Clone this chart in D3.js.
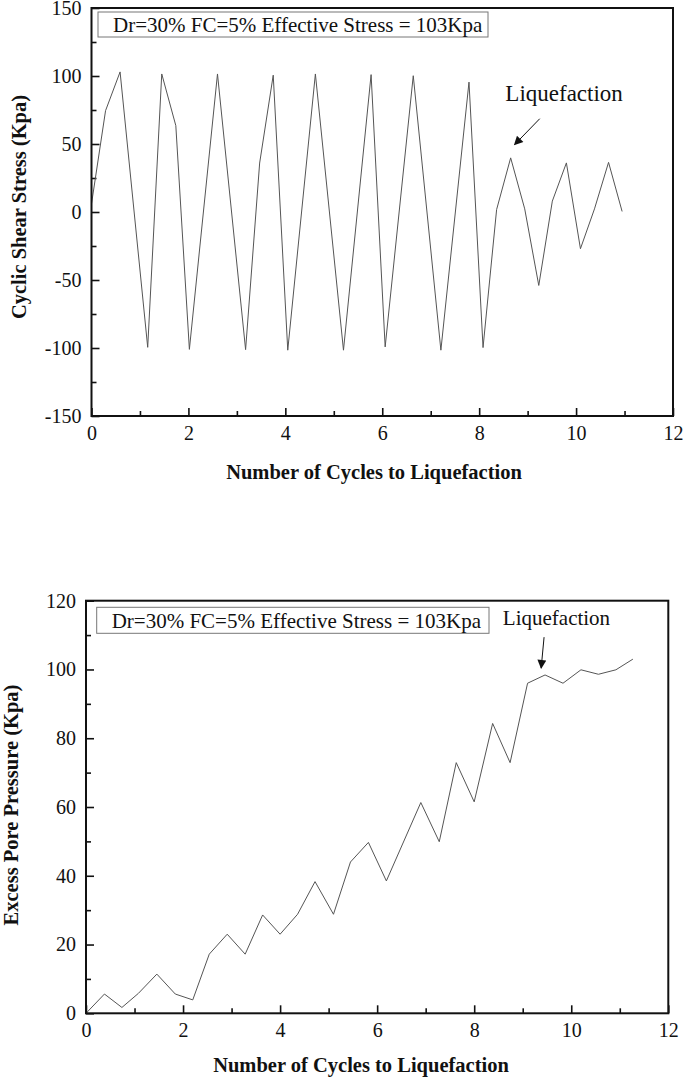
<!DOCTYPE html>
<html>
<head>
<meta charset="utf-8">
<script src="https://d3js.org/d3.v7.min.js"></script>
<style>
  body { margin: 0; background: #fff; }
  svg text { font-family: "Liberation Serif", "Times New Roman", serif; fill: #111; }
  .tick text { font-size: 20px; }
  .axis-title { font-size: 20.5px; font-weight: bold; }
</style>
</head>
<body>
<div id="chart"></div>
<script>
// --- data ---
const boxLabel = "Dr=30% FC=5% Effective Stress = 103Kpa";

// top panel: cyclic shear stress
const shearCycles = [0, 0.29, 0.59, 1.16, 1.45, 1.74, 2.02, 2.60, 3.18, 3.47, 3.75, 4.05, 4.62,
  5.20, 5.77, 6.06, 6.64, 7.21, 7.79, 8.08, 8.36, 8.65, 8.94, 9.23, 9.51, 9.80, 10.09, 10.38, 10.67, 10.95];
const shearStress = [6, 74.5, 103, -99.5, 101.5, 63.5, -101, 101.5, -101.2, 36, 100.6, -101.6, 101.5,
  -101.6, 101, -99.2, 100.2, -101.6, 95.5, -99.7, 1.8, 39.8, 2.3, -54, 8, 36.1, -27, 2.3, 36.5, 0.4];

// bottom panel: excess pore pressure
const poreCycles = [0, 0.38, 0.74, 1.08, 1.46, 1.84, 2.20, 2.54, 2.91, 3.28, 3.64, 4.00, 4.36, 4.72,
  5.10, 5.45, 5.82, 6.19, 6.90, 7.28, 7.63, 8.00, 8.38, 8.74, 9.10, 9.46, 9.83, 10.20, 10.56, 10.92, 11.27];
const porePressure = [0, 5.6, 1.7, 5.8, 11.4, 5.6, 3.9, 17.2, 23.0, 17.2, 28.6, 23.0, 28.8, 38.3,
  28.8, 44.0, 49.7, 38.5, 61.3, 49.9, 72.9, 61.5, 84.3, 72.9, 96.0, 98.4, 96.0, 99.9, 98.6, 99.9, 103.0];

const xTicks = [0, 2, 4, 6, 8, 10, 12];
const shearTicks = [-150, -100, -50, 0, 50, 100, 150];
const poreTicks = [0, 20, 40, 60, 80, 100, 120];

const W = 684, H = 1079;
const svg = d3.select('#chart').append('svg').attr('width', W).attr('height', H);

// plain hyphen for negatives, like the original
const fmt = d => String(d);

function panel(opt) {
  const x = d3.scaleLinear().domain([0, 12]).range([opt.left, opt.right]);
  const y = d3.scaleLinear().domain(opt.yDomain).range([opt.bottom, opt.top]);
  const g = svg.append('g');

  // minor ticks (no labels)
  const xMinor = d3.range(1, 12, 2);
  const yStep = opt.yTicks[1] - opt.yTicks[0];
  const yMinor = d3.range(opt.yDomain[0] + yStep / 2, opt.yDomain[1], yStep);

  g.append('g')
    .attr('transform', 'translate(0,' + opt.bottom + ')')
    .call(d3.axisBottom(x).tickValues(xMinor).tickSize(-5).tickFormat(''))
    .call(a => a.select('.domain').remove());
  g.append('g')
    .attr('transform', 'translate(' + opt.left + ',0)')
    .call(d3.axisLeft(y).tickValues(yMinor).tickSize(-5).tickFormat(''))
    .call(a => a.select('.domain').remove());

  // major ticks
  const xa = g.append('g')
    .attr('transform', 'translate(0,' + opt.bottom + ')')
    .call(d3.axisBottom(x).tickValues(xTicks).tickSizeInner(-8).tickSizeOuter(0).tickFormat(fmt));
  xa.select('.domain').remove();
  xa.selectAll('text').attr('dy', '0.71em').attr('y', 10);

  const ya = g.append('g')
    .attr('transform', 'translate(' + opt.left + ',0)')
    .call(d3.axisLeft(y).tickValues(opt.yTicks).tickSizeInner(-8).tickSizeOuter(0).tickFormat(fmt));
  ya.select('.domain').remove();
  ya.selectAll('text').attr('x', -10);

  g.selectAll('.tick line').attr('stroke', '#111').attr('stroke-width', 1.6);

  // data line
  const pts = opt.xs.map((v, i) => [v, opt.ys[i]]);
  g.append('path')
    .datum(pts)
    .attr('fill', 'none')
    .attr('stroke', '#555')
    .attr('stroke-width', 1)
    .attr('d', d3.line().x(d => x(d[0])).y(d => y(d[1])));

  // frame
  g.append('rect')
    .attr('x', opt.left).attr('y', opt.top)
    .attr('width', opt.right - opt.left).attr('height', opt.bottom - opt.top)
    .attr('fill', 'none').attr('stroke', '#111').attr('stroke-width', 2);

  // label box
  g.append('rect')
    .attr('x', opt.box[0]).attr('y', opt.box[1])
    .attr('width', opt.box[2]).attr('height', opt.box[3])
    .attr('fill', 'none').attr('stroke', '#777').attr('stroke-width', 1);
  g.append('text')
    .attr('x', opt.box[0] + 15).attr('y', opt.box[1] + opt.box[3] - 5)
    .style('font-size', '21px')
    .text(boxLabel);

  // annotation
  g.append('text')
    .attr('x', x(opt.note.tx)).attr('y', y(opt.note.ty))
    .style('font-size', opt.note.size + 'px')
    .text('Liquefaction');
  g.append('line')
    .attr('x1', x(opt.note.x1)).attr('y1', y(opt.note.y1))
    .attr('x2', x(opt.note.x2)).attr('y2', y(opt.note.y2))
    .attr('stroke', '#111').attr('stroke-width', 1)
    .attr('marker-end', 'url(#arrow)');

  // axis titles
  g.append('text')
    .attr('class', 'axis-title')
    .attr('x', opt.xTitleX).attr('y', opt.xTitleY)
    .attr('text-anchor', 'middle')
    .text('Number of Cycles to Liquefaction');
  g.append('text')
    .attr('class', 'axis-title')
    .attr('transform', 'translate(' + opt.yTitleX + ',' + opt.yTitleY + ') rotate(-90)')
    .attr('text-anchor', 'middle')
    .text(opt.yTitle);
}

svg.append('defs').append('marker')
  .attr('id', 'arrow')
  .attr('viewBox', '0 0 10 10')
  .attr('refX', 9).attr('refY', 5)
  .attr('markerWidth', 11).attr('markerHeight', 9)
  .attr('markerUnits', 'userSpaceOnUse')
  .attr('orient', 'auto')
  .append('path').attr('d', 'M0,0 L10,5 L0,10 Z').attr('fill', '#111');

panel({
  left: 91.5, right: 673, top: 8, bottom: 416,
  yDomain: [-150, 150], yTicks: shearTicks,
  xs: shearCycles, ys: shearStress,
  box: [98, 12, 390, 25],
  note: { tx: 8.54, ty: 81.8, size: 23, x1: 9.25, y1: 68.6, x2: 8.73, y2: 49.5 },
  xTitleX: 374, xTitleY: 479,
  yTitle: 'Cyclic Shear Stress (Kpa)', yTitleX: 26, yTitleY: 207
});

panel({
  left: 86, right: 668.3, top: 600.7, bottom: 1013.3,
  yDomain: [0, 120], yTicks: poreTicks,
  xs: poreCycles, ys: porePressure,
  box: [96.7, 607.3, 392.3, 26],
  note: { tx: 8.59, ty: 112.9, size: 21, x1: 9.44, y1: 109.4, x2: 9.38, y2: 100.4 },
  xTitleX: 361, xTitleY: 1072,
  yTitle: 'Excess Pore Pressure (Kpa)', yTitleX: 18, yTitleY: 805
});
</script>
</body>
</html>
